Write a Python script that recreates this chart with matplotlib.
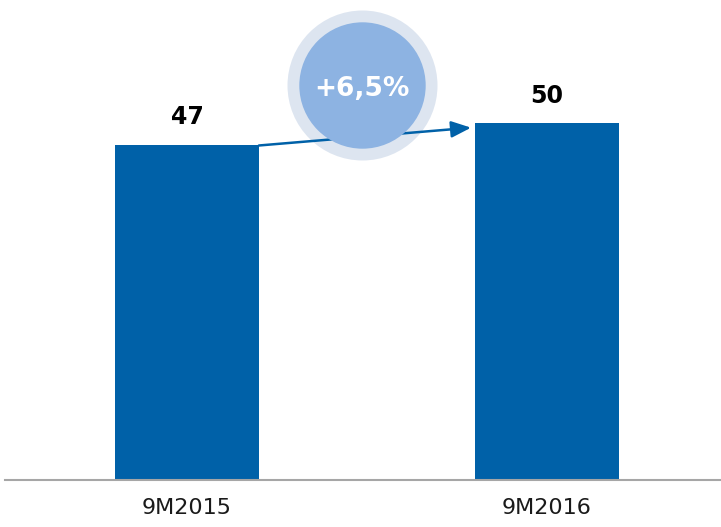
import matplotlib.pyplot as plt

periods = ['9M2015', '9M2016']
values = [47, 50]
change_label = '+6,5%'

bar_color = '#0061a8'

fig = plt.figure(figsize=(7.21, 5.27), dpi=100)
# axes runs from the baseline (px 480 from top) up to the top edge
ax = fig.add_axes([5 / 721, 47 / 527, 716 / 721, 480 / 527])

x = range(len(periods))
bars = ax.bar(x, values, width=0.40, color=bar_color, zorder=2)

ax.set_xlim(-0.506, 1.485)
ax.set_ylim(0, 67.3)

# value labels on top of bars
for xi, v in zip(x, values):
    ax.text(xi, v + 2.2, str(v), ha='center', va='bottom',
            fontsize=17, fontweight='bold', color='black')

# growth arrow from first bar to second bar
ax.annotate('', xy=(0.79, 49.4), xytext=(0.20, 46.9),
            arrowprops=dict(arrowstyle='-|>,head_length=1.2,head_width=0.5',
                            color=bar_color, lw=1.8, shrinkA=0, shrinkB=0),
            zorder=4)

# badge: light ring, then filled circle over the arrow
cx, cy = 0.487, 55.4
ax.scatter([cx], [cy], s=108 ** 2, color='#dde5f0', zorder=3, linewidths=0)
ax.scatter([cx], [cy], s=91 ** 2, color='#8db3e2', zorder=5, linewidths=0)
ax.text(cx, cy - 0.6, change_label, ha='center', va='center', fontsize=19,
        fontweight='bold', color='white', zorder=6)

ax.set_xticks(list(x))
ax.set_xticklabels(periods, fontsize=16, color='#1a1a1a')
ax.tick_params(axis='x', length=0, pad=13)
ax.set_yticks([])

for side in ('top', 'right', 'left'):
    ax.spines[side].set_visible(False)
ax.spines['bottom'].set_color('#a6a6a6')
ax.spines['bottom'].set_linewidth(1.5)
ax.patch.set_alpha(0)

fig.savefig('out.png', dpi=100)
